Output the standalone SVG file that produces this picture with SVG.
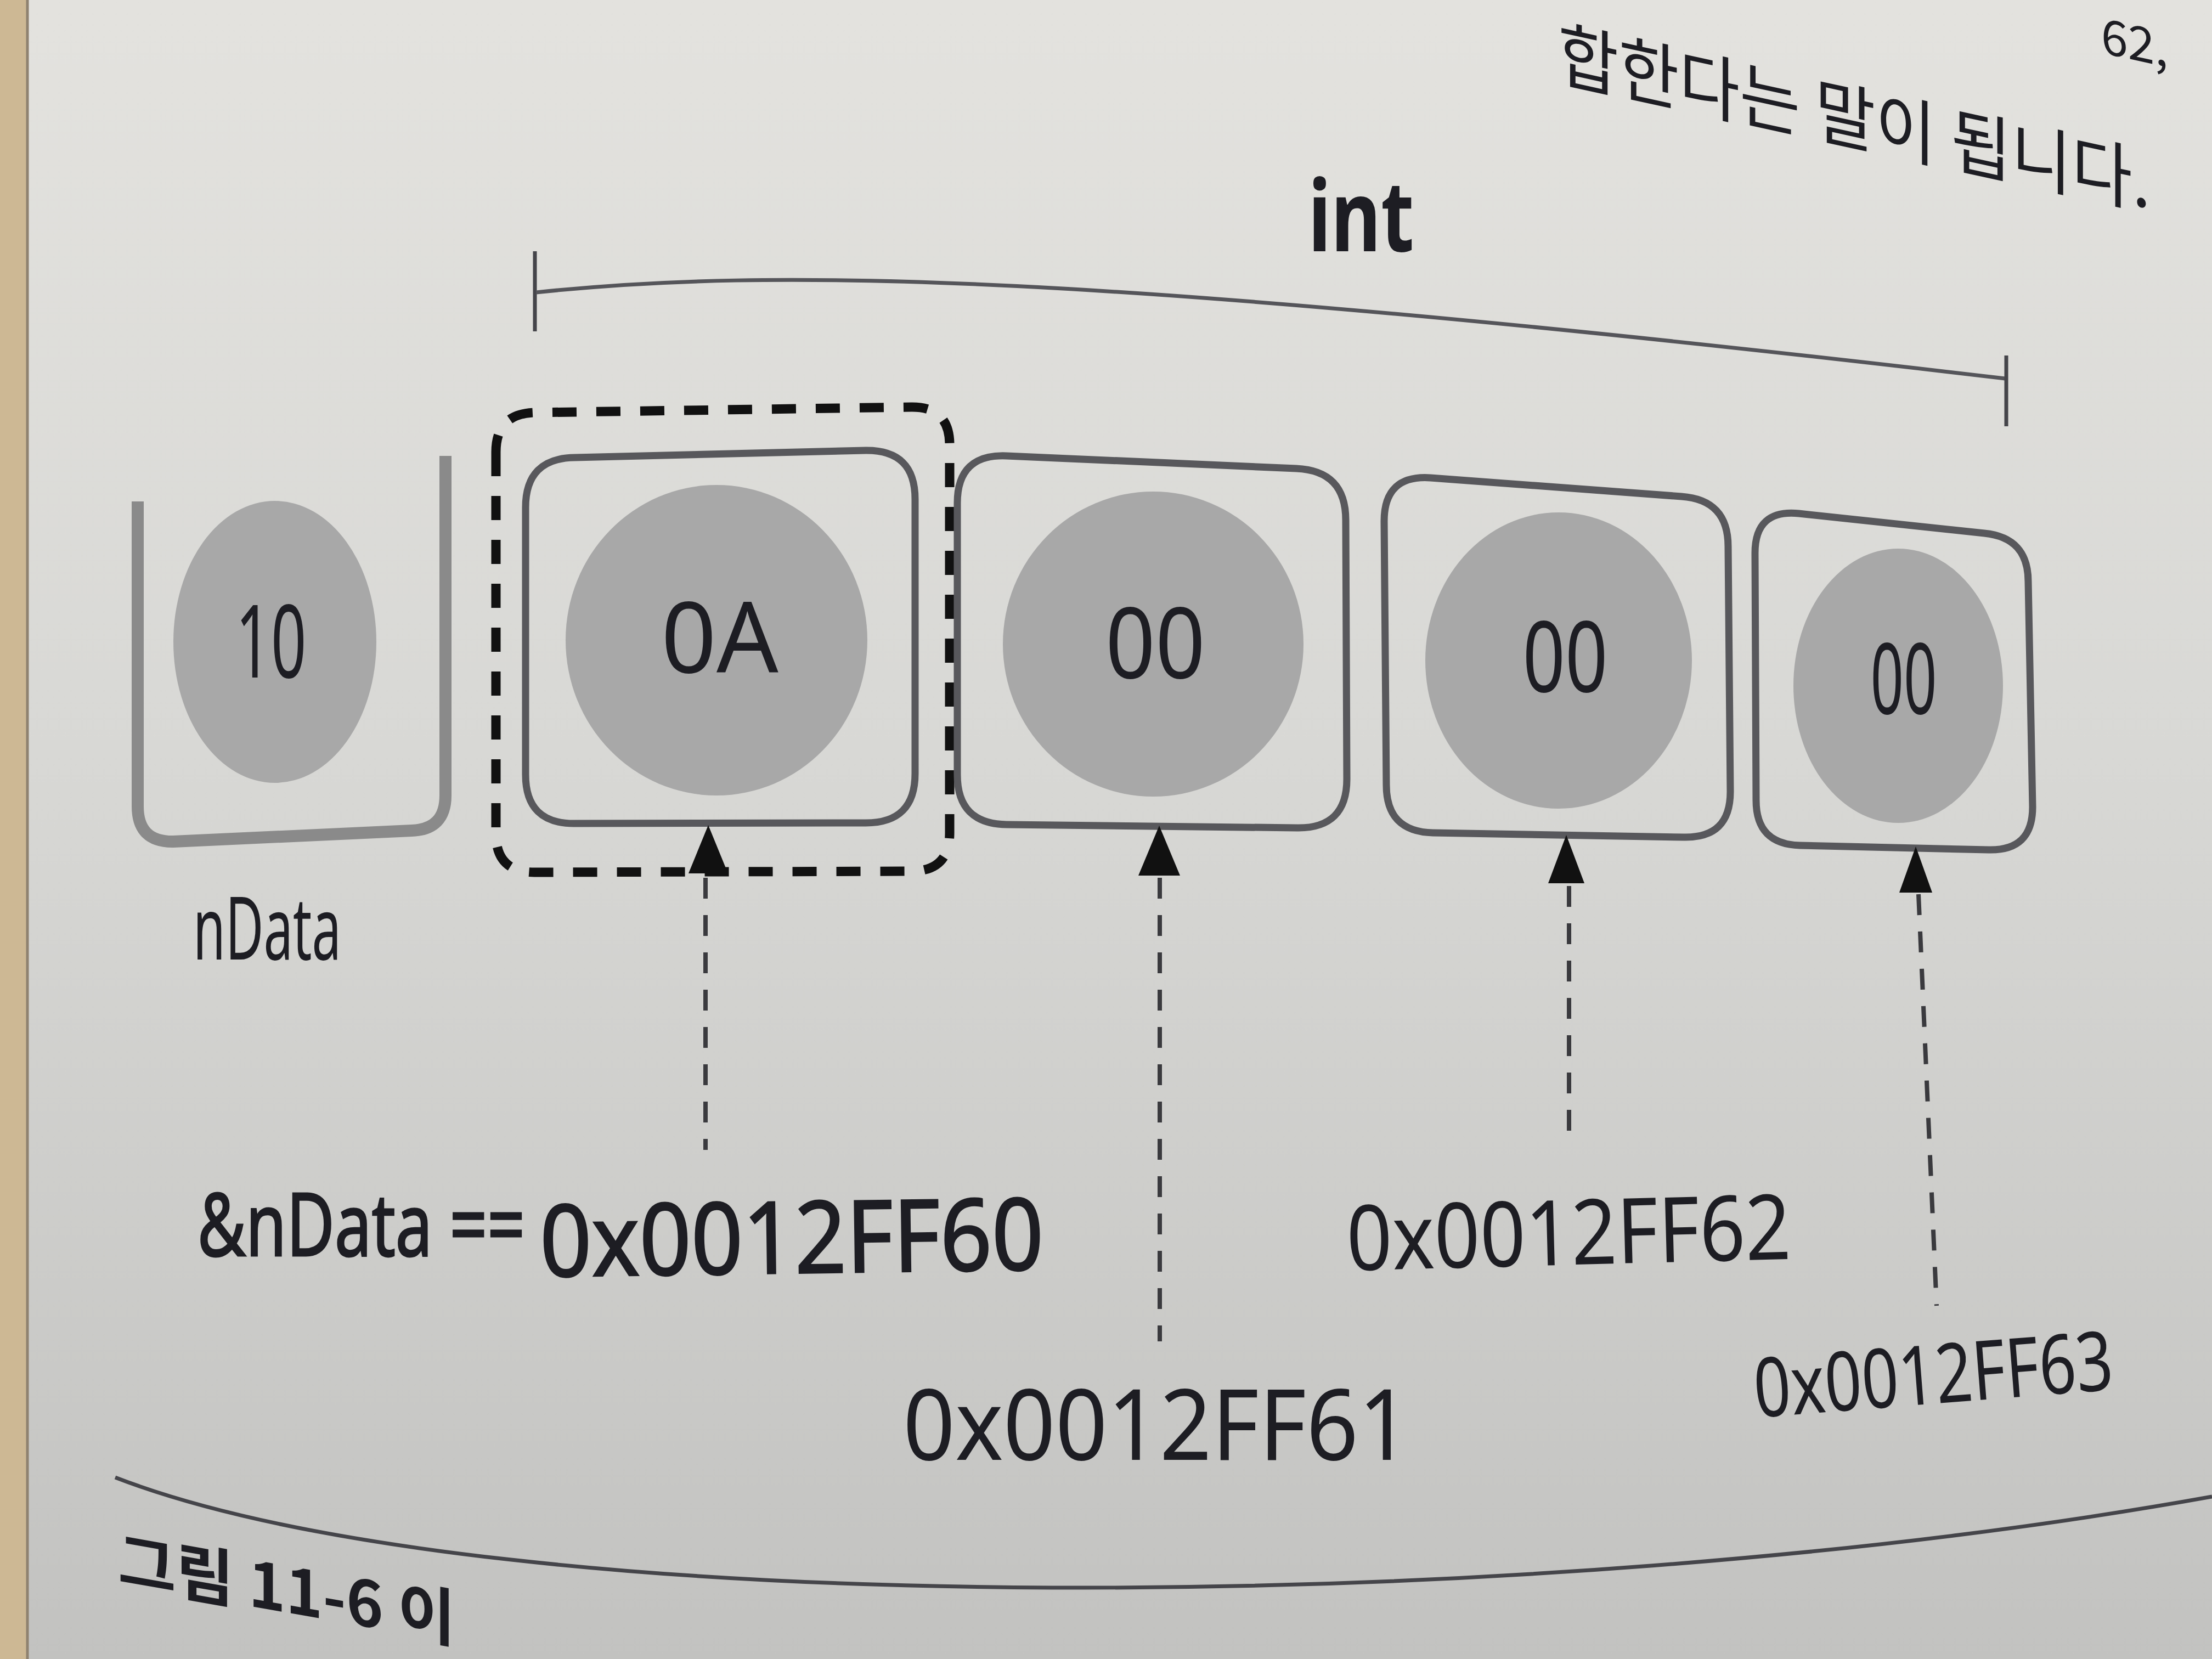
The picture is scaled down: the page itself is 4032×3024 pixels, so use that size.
<svg xmlns="http://www.w3.org/2000/svg" width="4032" height="3024" viewBox="0 0 4032 3024">
<defs>
<linearGradient id="paper" x1="0" y1="0" x2="0" y2="1">
<stop offset="0" stop-color="#e3e2de"/>
<stop offset="0.45" stop-color="#d8d8d5"/>
<stop offset="1" stop-color="#c2c2c0"/>
</linearGradient>
<style>
.t{font-family:"Noto Sans","Open Sans","Noto Sans CJK KR",sans-serif;fill:#1d1d23}
.kr{font-family:"Noto Sans CJK KR","Noto Sans",sans-serif;fill:#1d1d23}
.box{fill:none;stroke:#58585c;stroke-width:13}
.ball{fill:#a8a8a8}
.hex{font-size:180px;text-anchor:middle}
.lead{fill:none;stroke:#3a3a3e;stroke-width:8;stroke-dasharray:38 30}
.tip{fill:#111}
.semi{stroke:#1d1d23;stroke-width:3}
</style>
</defs>
<rect x="0" y="0" width="4032" height="3024" fill="url(#paper)"/>
<rect x="0" y="0" width="48" height="3024" fill="#cdb894"/>
<line x1="50" y1="0" x2="50" y2="3024" stroke="#8f8270" stroke-width="5"/>

<g id="page-text">
<text class="kr" font-size="130" transform="translate(2840,145) skewY(12.3)" textLength="1080" lengthAdjust="spacingAndGlyphs">합한다는 말이 됩니다.</text>
<text class="kr" font-size="88" transform="translate(3830,96) skewY(12.3)">62,</text>
<text class="kr" font-size="115" font-weight="700" transform="translate(215,2885) skewY(10)">그림 11-6 이</text>
<path d="M 210 2693 C 900 2960, 2800 2950, 4032 2728" fill="none" stroke="#45454a" stroke-width="7"/>
</g>

<g id="int-span">
<text class="t" x="2481" y="458" font-size="180" font-weight="700" text-anchor="middle" textLength="193" lengthAdjust="spacingAndGlyphs">int</text>
<line x1="975" y1="458" x2="975" y2="604" stroke="#45454a" stroke-width="7"/>
<path d="M 977 533 C 1400 488, 2000 495, 3655 690" fill="none" stroke="#55555a" stroke-width="7"/>
<line x1="3657" y1="648" x2="3657" y2="777" stroke="#45454a" stroke-width="7"/>
</g>

<g id="node-ndata">
<path d="M 251 914 L 251 1470 Q 251 1535 316 1534 L 750 1514 Q 812 1512 812 1450 L 812 831" fill="none" stroke="#8a8a8a" stroke-width="22"/>
<ellipse class="ball" cx="501" cy="1170" rx="185" ry="257"/>
<text class="t" x="494" y="1235" font-size="185" text-anchor="middle" textLength="129" lengthAdjust="spacingAndGlyphs">10</text>
<text class="t" x="352" y="1749" font-size="160" textLength="270" lengthAdjust="spacingAndGlyphs">nData</text>
</g>

<g id="node-byte0">
<path d="M 904 824 L 904 1520 Q 904 1590 974 1590 L 1661 1588 Q 1731 1588 1731 1518 L 1731 811 Q 1731 741 1661 742 L 974 752 Q 904 754 904 824 Z" fill="none" stroke="#111" stroke-width="17" stroke-dasharray="44 36"/>
<path class="box" d="M 958 925 L 958 1412 Q 958 1502 1048 1501 L 1578 1500 Q 1668 1500 1668 1410 L 1668 910 Q 1668 820 1578 821 L 1048 834 Q 958 835 958 925 Z"/>
<ellipse class="ball" cx="1306" cy="1167" rx="275" ry="283"/>
<text class="t hex" x="1312" y="1226" textLength="214" lengthAdjust="spacingAndGlyphs">0A</text>
</g>

<g id="node-byte1">
<path class="box" d="M 1745 917 L 1745 1412 Q 1745 1502 1835 1503 L 2365 1509 Q 2455 1510 2455 1420 L 2453 948 Q 2453 858 2363 854 L 1835 831 Q 1745 827 1745 917 Z"/>
<ellipse class="ball" cx="2102" cy="1174" rx="274" ry="278"/>
<text class="t hex" x="2106" y="1236" textLength="182" lengthAdjust="spacingAndGlyphs">00</text>
</g>

<g id="node-byte2">
<path class="box" d="M 2523 950 L 2527 1431 Q 2527 1516 2612 1518 L 3069 1526 Q 3154 1528 3154 1443 L 3150 996 Q 3150 911 3065 905 L 2608 871 Q 2523 865 2523 950 Z"/>
<ellipse class="ball" cx="2841" cy="1204" rx="243" ry="270"/>
<text class="t hex" x="2853" y="1261" font-size="165" textLength="155" lengthAdjust="spacingAndGlyphs">00</text>
</g>

<g id="node-byte3">
<path class="box" d="M 3199 1008 L 3201 1459 Q 3201 1539 3281 1541 L 3625 1549 Q 3705 1551 3705 1471 L 3697 1060 Q 3697 980 3617 972 L 3279 936 Q 3199 928 3199 1008 Z"/>
<ellipse class="ball" cx="3460" cy="1250" rx="191" ry="250"/>
<text class="t hex" x="3470" y="1301" font-size="150" textLength="121" lengthAdjust="spacingAndGlyphs">00</text>
</g>

<g id="connectors">
<line class="lead" x1="1286" y1="1600" x2="1286" y2="2096"/>
<polygon class="tip" points="1291,1504 1255,1592 1327,1592"/>
<line class="lead" x1="2114" y1="1600" x2="2114" y2="2445"/>
<polygon class="tip" points="2113,1505 2075,1596 2151,1596"/>
<line class="lead" x1="2860" y1="1615" x2="2860" y2="2085"/>
<polygon class="tip" points="2855,1522 2822,1610 2888,1610"/>
<line class="lead" x1="3497" y1="1630" x2="3530" y2="2380"/>
<polygon class="tip" points="3492,1543 3462,1627 3522,1627"/>
</g>

<g id="labels">
<text class="t semi" x="360" y="2289" font-size="160" textLength="597" lengthAdjust="spacingAndGlyphs">&amp;nData ==</text>
<text class="t semi" x="985" y="2327" font-size="182" textLength="918" lengthAdjust="spacingAndGlyphs" transform="rotate(-0.8 985 2327)">0x0012FF60</text>
<text class="t" x="1646" y="2661" font-size="180" textLength="925" lengthAdjust="spacingAndGlyphs">0x0012FF61</text>
<text class="t" x="2456" y="2316" font-size="165" textLength="810" lengthAdjust="spacingAndGlyphs" transform="rotate(-1.5 2456 2316)">0x0012FF62</text>
<text class="t" x="3201" y="2584" font-size="150" textLength="656" lengthAdjust="spacingAndGlyphs" transform="rotate(-4.5 3201 2584)">0x0012FF63</text>
</g>
</svg>
